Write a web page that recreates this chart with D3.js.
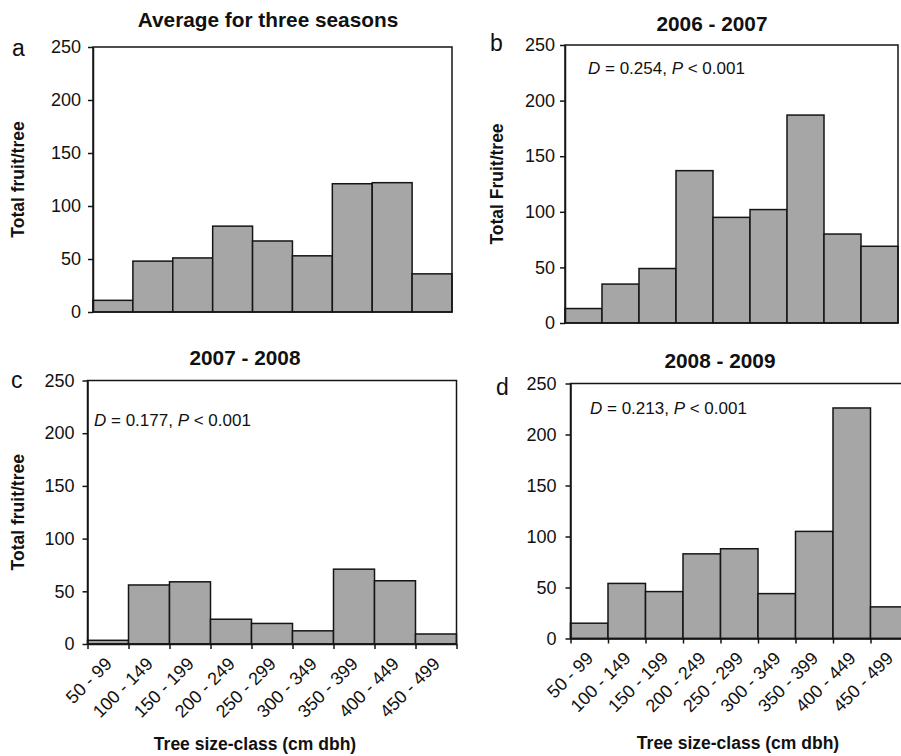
<!DOCTYPE html>
<html>
<head>
<meta charset="utf-8">
<script src="https://cdn.jsdelivr.net/npm/d3@7"></script>
<style>
  html, body { margin: 0; padding: 0; background: #fff; }
  svg { display: block; }
  text { font-family: "Liberation Sans", Arial, sans-serif; fill: #111; }
</style>
</head>
<body>
<svg id="chart" width="901" height="756"></svg>
<script>
// Tree size classes (cm dbh)
const sizeClasses = ["50 - 99", "100 - 149", "150 - 199", "200 - 249", "250 - 299",
                     "300 - 349", "350 - 399", "400 - 449", "450 - 499"];

// Total fruit per tree in each size class
const avgThreeSeasons = [11, 48, 51, 81, 67, 53, 121, 122, 36];
const season0607 = [13, 35, 49, 137, 95, 102, 187, 80, 69];
const season0708 = [3.5, 56, 59, 23.5, 19.5, 12.5, 71, 60, 9.5];
const season0809 = [15, 54, 46, 83, 88, 44, 105, 226, 31];

const yTicks = [0, 50, 100, 150, 200, 250];

const panels = [
  { letter: "a", title: "Average for three seasons", values: avgThreeSeasons,
    ylabel: "Total fruit/tree", stat: null, xlabels: false,
    box: { left: 93, right: 452, top: 47, bottom: 312 },
    titleX: 268, titleY: 27, letterX: 12, letterY: 56, ylabelX: 24, tickPad: 7 },
  { letter: "b", title: "2006 - 2007", values: season0607,
    ylabel: "Total Fruit/tree", stat: ["0.254"], xlabels: false,
    box: { left: 565, right: 898, top: 45, bottom: 323 },
    titleX: 712, titleY: 31, letterX: 490, letterY: 51, ylabelX: 503, tickPad: 5,
    statX: 588, statY: 74 },
  { letter: "c", title: "2007 - 2008", values: season0708,
    ylabel: "Total fruit/tree", stat: ["0.177"], xlabels: true,
    box: { left: 87.5, right: 456.5, top: 380.5, bottom: 644 },
    titleX: 245, titleY: 365, letterX: 11, letterY: 388, ylabelX: 24, tickPad: 8,
    statX: 94, statY: 426, xtitleX: 255, xtitleY: 750 },
  { letter: "d", title: "2008 - 2009", values: season0809,
    ylabel: null, stat: ["0.213"], xlabels: true,
    box: { left: 570.5, right: 908, top: 383.5, bottom: 638.5 },
    titleX: 720, titleY: 368, letterX: 496, letterY: 395, ylabelX: null, tickPad: 9,
    statX: 590, statY: 414, xtitleX: 738, xtitleY: 749 }
];

const svg = d3.select("#chart");

panels.forEach(p => {
  const b = p.box;
  const g = svg.append("g");

  const x = d3.scaleBand().domain(sizeClasses).range([b.left, b.right]).padding(0);
  const xEdge = d3.scaleLinear().domain([0, sizeClasses.length]).range([b.left, b.right]);
  const y = d3.scaleLinear().domain([0, 250]).range([b.bottom, b.top]);

  // bars
  g.selectAll("rect.bar")
    .data(p.values)
    .join("rect")
    .attr("class", "bar")
    .attr("x", (d, i) => x(sizeClasses[i]))
    .attr("y", d => y(d))
    .attr("width", x.bandwidth())
    .attr("height", d => y(0) - y(d))
    .attr("fill", "#a6a6a6")
    .attr("stroke", "#151515")
    .attr("stroke-width", 1.5);

  // plot frame
  g.append("rect")
    .attr("x", b.left).attr("y", b.top)
    .attr("width", b.right - b.left).attr("height", b.bottom - b.top)
    .attr("fill", "none").attr("stroke", "#151515").attr("stroke-width", 1.5);

  // y axis
  const yAxis = g.append("g")
    .attr("transform", `translate(${b.left},0)`)
    .call(d3.axisLeft(y).tickValues(yTicks).tickSize(5).tickSizeOuter(0).tickPadding(p.tickPad));
  yAxis.select(".domain").attr("stroke", "#151515").attr("stroke-width", 1.5);
  yAxis.selectAll(".tick line").attr("stroke", "#151515").attr("stroke-width", 1.5);
  yAxis.selectAll(".tick text")
    .attr("font-size", 18).attr("fill", "#111")
    .attr("font-family", "Liberation Sans, Arial, sans-serif");

  // x axis: ticks on class boundaries
  if (p.xlabels) {
    const xAxis = g.append("g")
      .attr("transform", `translate(0,${b.bottom})`)
      .call(d3.axisBottom(xEdge).tickValues(d3.range(sizeClasses.length + 1))
              .tickSize(5).tickSizeOuter(0).tickFormat(""));
    xAxis.select(".domain").attr("stroke", "#151515").attr("stroke-width", 1.5);
    xAxis.selectAll(".tick line").attr("stroke", "#151515").attr("stroke-width", 1.5);

    g.selectAll("text.xlab")
      .data(sizeClasses)
      .join("text")
      .attr("class", "xlab")
      .attr("text-anchor", "end")
      .attr("font-size", 18)
      .attr("transform", d => {
        const ax = x(d) + x.bandwidth() / 2 + 5;
        const ay = b.bottom + 21;
        return `translate(${ax},${ay}) rotate(-45)`;
      })
      .text(d => d);

    g.append("text")
      .attr("x", p.xtitleX).attr("y", p.xtitleY)
      .attr("text-anchor", "middle")
      .attr("font-size", 17.5).attr("font-weight", "bold")
      .text("Tree size-class (cm dbh)");
  }

  // panel title
  g.append("text")
    .attr("x", p.titleX).attr("y", p.titleY)
    .attr("text-anchor", "middle")
    .attr("font-size", 20.8).attr("font-weight", "bold")
    .text(p.title);

  // panel letter
  g.append("text")
    .attr("x", p.letterX).attr("y", p.letterY)
    .attr("font-size", 23)
    .text(p.letter);

  // y axis title
  if (p.ylabel) {
    g.append("text")
      .attr("transform", `translate(${p.ylabelX},${(b.top + b.bottom) / 2}) rotate(-90)`)
      .attr("text-anchor", "middle")
      .attr("font-size", 17.5).attr("font-weight", "bold")
      .text(p.ylabel);
  }

  // test statistic
  if (p.stat) {
    const t = g.append("text")
      .attr("x", p.statX).attr("y", p.statY)
      .attr("font-size", 17)
      .attr("font-family", "Lato, 'Liberation Sans', sans-serif");
    t.append("tspan").attr("font-style", "italic").text("D");
    t.append("tspan").text(" = " + p.stat[0] + ", ");
    t.append("tspan").attr("font-style", "italic").text("P");
    t.append("tspan").text(" < 0.001");
  }
});
</script>
</body>
</html>
